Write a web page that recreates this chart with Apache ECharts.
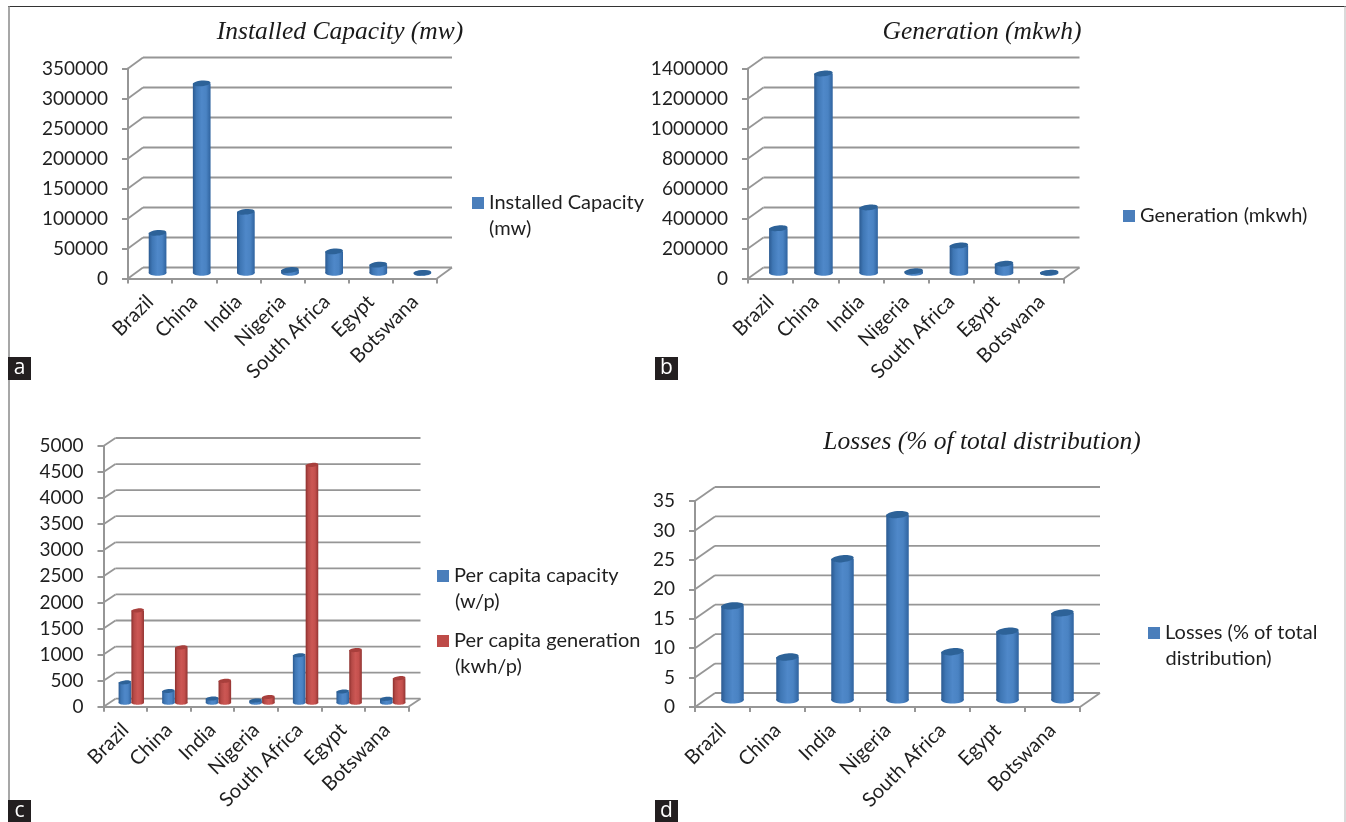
<!DOCTYPE html>
<html>
<head>
<meta charset="utf-8">
<script src="https://cdn.jsdelivr.net/npm/echarts@6/dist/echarts.min.js"></script>
<style>html,body{margin:0;padding:0;background:#fff}#c{width:1346px;height:822px}</style>
</head>
<body>
<div id="c"></div>
<script>
const categories = ['Brazil','China','India','Nigeria','South Africa','Egypt','Botswana'];

const installedCapacity = [67000,316000,102000,5000,36000,14000,300];
const generation = [298000,1330000,437000,12000,183000,62000,2000];
const perCapitaCapacity = [390,225,80,40,910,215,75];
const perCapitaGeneration = [1770,1060,420,110,4560,1010,470];
const losses = [16,7.3,24,31.5,8.2,11.7,14.8];

const ticksA = [0,50000,100000,150000,200000,250000,300000,350000];
const ticksB = [0,200000,400000,600000,800000,1000000,1200000,1400000];
const ticksC = [0,500,1000,1500,2000,2500,3000,3500,4000,4500,5000];
const ticksD = [0,5,10,15,20,25,30,35];

const BLUE = ['#2b5a91','#3f77b5','#4f88c9','#4a83c3','#2f639f'];
const RED  = ['#8c2f2d','#b64a47','#cc5754','#c4504d','#923432'];
const CAP_BLUE = '#2d6298', CAP_RED = '#a83f3c';
const LEG_BLUE = '#4a7ebb', LEG_RED = '#be4b48';

const panels = [
  {ticks:ticksA, grid:{left:128,top:68.5,width:309,height:210}, dx:15, dy:-11, w:17.7, ry:2.8,
   series:[{name:'Installed Capacity (mw)',data:installedCapacity,grad:BLUE,cap:CAP_BLUE,leg:LEG_BLUE,shift:0}]},
  {ticks:ticksB, grid:{left:748,top:68.5,width:316,height:210}, dx:15.5, dy:-11, w:18.5, ry:2.8,
   series:[{name:'Generation (mkwh)',data:generation,grad:BLUE,cap:CAP_BLUE,leg:LEG_BLUE,shift:0}]},
  {ticks:ticksC, grid:{left:103.5,top:446,width:305,height:260.7}, dx:12, dy:-8, w:12.6, ry:2,
   series:[
     {name:'Per capita capacity (w/p)',data:perCapitaCapacity,grad:BLUE,cap:CAP_BLUE,leg:LEG_BLUE,shift:-6.4},
     {name:'Per capita generation (kwh/p)',data:perCapitaGeneration,grad:RED,cap:CAP_RED,leg:LEG_RED,shift:6.4}]},
  {ticks:ticksD, grid:{left:695,top:501,width:385,height:206}, dx:20, dy:-14, w:22.5, ry:3.5,
   series:[{name:'Losses (% of total distribution)',data:losses,grad:BLUE,cap:CAP_BLUE,leg:LEG_BLUE,shift:0}]}
];

const FONT = 'Lato';
const TXT = '#1f1f1f';
const AXC = '#969696';

function wallRenderer(p){
  return function(params, api){
    const v = api.value(1);
    const band = api.size([1,0])[0];
    const c = api.coord([0,v]);
    const x0 = c[0]-band/2, y = c[1];
    const x1 = x0+band*categories.length;
    const st = {stroke:AXC,lineWidth:1.8,fill:null};
    const kids = [
      {type:'line',shape:{x1:x0,y1:y,x2:x0+p.dx,y2:y+p.dy},style:st},
      {type:'line',shape:{x1:x0+p.dx,y1:y+p.dy,x2:x1+p.dx,y2:y+p.dy},style:st}
    ];
    if(v===0) kids.push({type:'line',shape:{x1:x1,y1:y,x2:x1+p.dx,y2:y+p.dy},style:st});
    return {type:'group',children:kids};
  };
}
function barRenderer(p,s){
  return function(params, api){
    const idx = api.value(0), v = api.value(1);
    const top = api.coord([idx,v]), bot = api.coord([idx,0]);
    const cx = top[0]+p.dx/2+s.shift, yT = top[1]+p.dy/2, yB = bot[1]+p.dy/2;
    const fill = new echarts.graphic.LinearGradient(0,0,1,0,[
      {offset:0,color:s.grad[0]},{offset:.2,color:s.grad[1]},{offset:.5,color:s.grad[2]},
      {offset:.75,color:s.grad[3]},{offset:1,color:s.grad[4]}]);
    const rx = p.w/2;
    return {type:'group',children:[
      {type:'ellipse',shape:{cx:cx,cy:yB,rx:rx,ry:p.ry},style:{fill:fill}},
      {type:'rect',shape:{x:cx-rx,y:yT,width:p.w,height:Math.max(yB-yT,0)},style:{fill:fill}},
      {type:'ellipse',shape:{cx:cx,cy:yT,rx:rx,ry:p.ry},originX:cx,originY:yT,rotation:0.1,style:{fill:s.cap}}
    ]};
  };
}

const grids=[],xAxes=[],yAxes=[],series=[];
panels.forEach((p,i)=>{
  grids.push(Object.assign({},p.grid));
  xAxes.push({type:'category',gridIndex:i,data:categories,
    axisLine:{lineStyle:{color:AXC,width:2}},
    axisTick:{show:true,length:5,lineStyle:{color:AXC,width:2}},
    axisLabel:{rotate:45,interval:0,margin:20,fontFamily:FONT,fontSize:20,color:TXT}});
  yAxes.push({type:'value',gridIndex:i,min:p.ticks[0],max:p.ticks[p.ticks.length-1],interval:p.ticks[1]-p.ticks[0],
    axisLine:{show:true,lineStyle:{color:AXC,width:2}},
    axisTick:{show:true,length:6,lineStyle:{color:AXC,width:2}},
    splitLine:{show:false},
    axisLabel:{margin:20,fontFamily:FONT,fontSize:19,color:TXT,formatter:v=>String(v)}});
  series.push({type:'custom',name:'wall'+i,xAxisIndex:i,yAxisIndex:i,silent:true,z:1,
    encode:{x:0,y:1},data:p.ticks.map(t=>[0,t]),renderItem:wallRenderer(p)});
  p.series.forEach(s=>{
    series.push({type:'custom',name:s.name,xAxisIndex:i,yAxisIndex:i,z:3,
      itemStyle:{color:s.leg},encode:{x:0,y:1},
      data:s.data.map((v,k)=>[k,v]),renderItem:barRenderer(p,s)});
  });
});

const firstLine = {
  'Installed Capacity (mw)':'Installed Capacity',
  'Generation (mkwh)':'Generation (mkwh)',
  'Per capita capacity (w/p)':'Per capita capacity',
  'Per capita generation (kwh/p)':'Per capita generation',
  'Losses (% of total distribution)':'Losses (% of total'
};
function legend(name,left,top){
  return {left:left,top:top,orient:'vertical',icon:'rect',itemWidth:12,itemHeight:12,itemGap:0,padding:0,
    data:[name],formatter:n=>firstLine[n],
    textStyle:{fontFamily:FONT,fontSize:20,color:TXT}};
}
const legends=[
  legend('Installed Capacity (mw)',472,193),
  legend('Generation (mkwh)',1123,206),
  legend('Per capita capacity (w/p)',437,566),
  legend('Per capita generation (kwh/p)',437,631),
  legend('Losses (% of total distribution)',1148,623)
];
function title(text,cx,cy){
  return {text:text,left:cx,top:cy-11,textAlign:'center',padding:0,
    textStyle:{fontFamily:'Liberation Serif',fontStyle:'italic',fontWeight:'normal',fontSize:25.5,color:'#1a1a1a'}};
}
function secondLine(text,x,y){
  return {type:'text',x:x,y:y,style:{text:text,fontFamily:FONT,fontSize:20,fill:TXT,verticalAlign:'middle'}};
}
function badge(t,x,y,h){
  return {type:'group',children:[
    {type:'rect',shape:{x:x,y:y,width:23,height:h},style:{fill:'#231f20'}},
    {type:'text',x:x+11.5,y:y+h/2,style:{text:t,fontFamily:'Open Sans',fontSize:21,fill:'#fff',align:'center',verticalAlign:'middle'}}
  ]};
}
const graphics=[
  {type:'line',shape:{x1:8,y1:6.5,x2:1346,y2:6.5},style:{stroke:'#333',lineWidth:1.2}},
  {type:'line',shape:{x1:9,y1:6,x2:9,y2:822},style:{stroke:'#8a8a8a',lineWidth:1.5}},
  {type:'line',shape:{x1:1345,y1:6,x2:1345,y2:822},style:{stroke:'#b5b5b5',lineWidth:1}},
  badge('a',8,357,23),badge('b',655,357,23),badge('c',8,800,22),badge('d',655,800,22),
  secondLine('(mw)',489,229),
  secondLine('(w/p)',455,602),
  secondLine('(kwh/p)',455,667),
  secondLine('distribution)',1165.5,659)
];

const chart = echarts.init(document.getElementById('c'),null,{renderer:'canvas'});
chart.setOption({
  animation:false,backgroundColor:'#fff',
  title:[title('Installed Capacity (mw)',340,30),title('Generation (mkwh)',982,30),title('Losses (% of total distribution)',982,440)],
  legend:legends,grid:grids,xAxis:xAxes,yAxis:yAxes,series:series,
  graphic:{elements:graphics}
});
</script>
</body>
</html>
